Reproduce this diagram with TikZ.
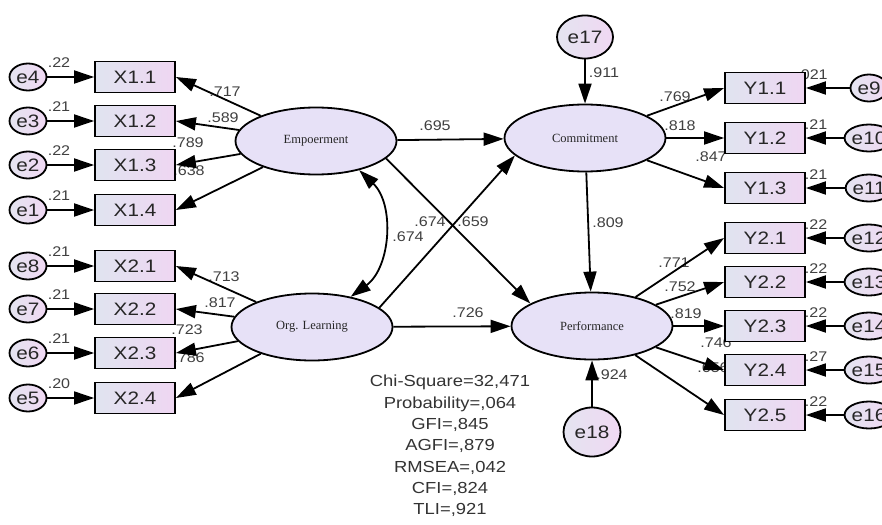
\documentclass[tikz,border=0pt]{standalone}
\usepackage{fontspec}
\usepackage{xcolor}
\usepackage{tikz}
\usetikzlibrary{arrows.meta, shapes.geometric}

\newfontfamily\arialw[FakeStretch=1.15]{Liberation Sans}
\newfontfamily\palat{Liberation Serif}
\definecolor{boxleft}{RGB}{224,228,240}
\definecolor{boxright}{RGB}{239,214,242}
\definecolor{errleft}{RGB}{228,228,240}
\definecolor{errright}{RGB}{240,216,243}
\definecolor{latentfill}{RGB}{231,225,247}

\begin{document}
\begin{tikzpicture}[x=1pt, y=-1pt,
		indicator/.style={rectangle, draw, line width=1.8pt, left color=boxleft, right color=boxright, minimum width=80pt, minimum height=31pt, inner sep=0pt, font=\arialw\fontsize{18}{18}\selectfont, text=black!85},
		latent/.style={ellipse, draw, line width=1.8pt, fill=latentfill, minimum width=161pt, minimum height=67pt, inner sep=0pt, font=\palat\fontsize{12.5}{12.5}\selectfont, text=black!85},
		errvar/.style={ellipse, draw, line width=1.8pt, left color=errleft, right color=errright, minimum width=37pt, minimum height=27pt, inner sep=0pt, font=\arialw\fontsize{18}{18}\selectfont, text=black!85},
		coef/.style={inner sep=0pt, font=\arialw\fontsize{14}{14}\selectfont, text=black!75},
		arrowline/.style={line width=1.8pt, -{Triangle[length=20pt, width=13pt]}}]
		\def\xe{28};
		\def\xb{135};
		\def\xc{765};
		\def\xf{869};

		\useasboundingbox (0,0) rectangle (882,524);

		\node[coef] (c4) at (59,63) {.22};
		\node[coef] (c3) at (59,107) {.21};
		\node[coef] (c2) at (59,151) {.22};
		\node[coef] (c1) at (59,196) {.21};
		\node[coef] (c8) at (59,252) {.21};
		\node[coef] (c7) at (59,295) {.21};
		\node[coef] (c6) at (59,339) {.21};
		\node[coef] (c5) at (59,384) {.20};

		\node[coef] (c9) at (812,75) {.021};
		\node[coef] (c10) at (816,125) {.21};
		\node[coef] (c11) at (816,175) {.21};
		\node[coef] (c12) at (816,225) {.22};
		\node[coef] (c13) at (816,269) {.22};
		\node[coef] (c14) at (816,313) {.22};
		\node[coef] (c15) at (816,357) {.27};
		\node[coef] (c16) at (816,402) {.22};

		\node[coef] (lx11) at (225,92) {.717};
		\node[coef] (lx12) at (223,118) {.589};
		\node[coef] (lx13) at (188,143) {.789};
		\node[coef] (lx14) at (189,171) {.638};
		\node[coef] (lx21) at (224,277) {.713};
		\node[coef] (lx22) at (220,303) {.817};
		\node[coef] (lx23) at (187,330) {.723};
		\node[coef] (lx24) at (189,358) {.786};

		\node[coef] (lec) at (435,126) {.695};
		\node[coef] (leo) at (408,237) {.674};
		\node[coef] (loc) at (430,222) {.674};
		\node[coef] (lep) at (473,222) {.659};
		\node[coef] (lop) at (468,313) {.726};
		\node[coef] (l17) at (604,73) {.911};
		\node[coef] (lcp) at (608,223) {.809};
		\node[coef] (l18) at (612,375) {.924};

		\node[coef] (ly11) at (675,97) {.769};
		\node[coef] (ly12) at (680,126) {.818};
		\node[coef] (ly13) at (711,157) {.847};
		\node[coef] (ly21) at (674,263) {.771};
		\node[coef] (ly22) at (680,287) {.752};
		\node[coef] (ly23) at (686,314) {.819};
		\node[coef] (ly24) at (716,343) {.746};
		\node[coef] (ly25) at (713,368) {.656};

		\node[errvar] (e4) at (\xe,77) {e4};
		\node[errvar] (e3) at (\xe,121) {e3};
		\node[errvar] (e2) at (\xe,165) {e2};
		\node[errvar] (e1) at (\xe,210) {e1};
		\node[errvar] (e8) at (\xe,266) {e8};
		\node[errvar] (e7) at (\xe,309) {e7};
		\node[errvar] (e6) at (\xe,353) {e6};
		\node[errvar] (e5) at (\xe,398) {e5};

		\node[indicator] (X11) at (\xb,77) {X1.1};
		\node[indicator] (X12) at (\xb,121) {X1.2};
		\node[indicator] (X13) at (\xb,165) {X1.3};
		\node[indicator] (X14) at (\xb,210) {X1.4};
		\node[indicator] (X21) at (\xb,266) {X2.1};
		\node[indicator] (X22) at (\xb,309) {X2.2};
		\node[indicator] (X23) at (\xb,353) {X2.3};
		\node[indicator] (X24) at (\xb,398) {X2.4};

		\node[indicator] (Y11) at (\xc,88) {Y1.1};
		\node[indicator] (Y12) at (\xc,138) {Y1.2};
		\node[indicator] (Y13) at (\xc,188) {Y1.3};
		\node[indicator] (Y21) at (\xc,238) {Y2.1};
		\node[indicator] (Y22) at (\xc,282) {Y2.2};
		\node[indicator] (Y23) at (\xc,326) {Y2.3};
		\node[indicator] (Y24) at (\xc,370) {Y2.4};
		\node[indicator] (Y25) at (\xc,415) {Y2.5};

		\node[errvar] (e9) at (\xf,88) {e9};
		\node[errvar] (e10) at (\xf,138) {e10};
		\node[errvar] (e11) at (\xf,188) {e11};
		\node[errvar] (e12) at (\xf,238) {e12};
		\node[errvar] (e13) at (\xf,282) {e13};
		\node[errvar] (e14) at (\xf,326) {e14};
		\node[errvar] (e15) at (\xf,370) {e15};
		\node[errvar] (e16) at (\xf,415) {e16};

		\node[latent] (Emp) at (316,141) {Empoerment};
		\node[latent] (Org) at (312,327) {Org. Learning};
		\node[latent] (Com) at (585,138) {Commitment};
		\node[latent] (Perf) at (592,326) {Performance};
		\node[errvar, minimum width=56pt, minimum height=43pt] (e17) at (585,37) {e17};
		\node[errvar, minimum width=57pt, minimum height=49pt] (e18) at (592,432) {e18};

		\node[align=center, font=\arialw\fontsize{16}{21.3}\selectfont, text=black!80] (fit) at (450,446) {Chi-Square=32,471\\Probability=,064\\GFI=,845\\AGFI=,879\\RMSEA=,042\\CFI=,824\\TLI=,921};

		\begin{scope}[arrowline]
			\draw (e4) -- (X11);
			\draw (e3) -- (X12);
			\draw (e2) -- (X13);
			\draw (e1) -- (X14);
			\draw (e8) -- (X21);
			\draw (e7) -- (X22);
			\draw (e6) -- (X23);
			\draw (e5) -- (X24);

			\draw (e9) -- (Y11);
			\draw (e10) -- (Y12);
			\draw (e11) -- (Y13);
			\draw (e12) -- (Y21);
			\draw (e13) -- (Y22);
			\draw (e14) -- (Y23);
			\draw (e15) -- (Y24);
			\draw (e16) -- (Y25);

			\draw (Emp) -- (X11.east);
			\draw (Emp) -- (X12.east);
			\draw (Emp) -- (X13.east);
			\draw (Emp) -- (X14.east);
			\draw (Org) -- (X21.east);
			\draw (Org) -- (X22.east);
			\draw (Org) -- (X23.east);
			\draw (Org) -- (X24.east);

			\draw (Com) -- (Y11.west);
			\draw (Com) -- (Y12.west);
			\draw (Com) -- (Y13.west);
			\draw (Perf) -- (Y21.west);
			\draw (Perf) -- (Y22.west);
			\draw (Perf) -- (Y23.west);
			\draw (Perf) -- (Y24.west);
			\draw (Perf) -- (Y25.west);

			\draw (Emp) -- (Com);
			\draw (Emp.-14) -- (Perf.160);
			\draw (Org.16) -- (Com.194);
			\draw (Org) -- (Perf);
			\draw (Com) -- (Perf);
			\draw (e17) -- (Com);
			\draw (e18) -- (Perf);
		\end{scope}

		\draw[line width=1.8pt, {Triangle[length=20pt, width=13pt]}-{Triangle[length=20pt, width=13pt]}] (Emp.-34) to[bend left=50] (Org.38);
	\end{tikzpicture}
\end{document}
